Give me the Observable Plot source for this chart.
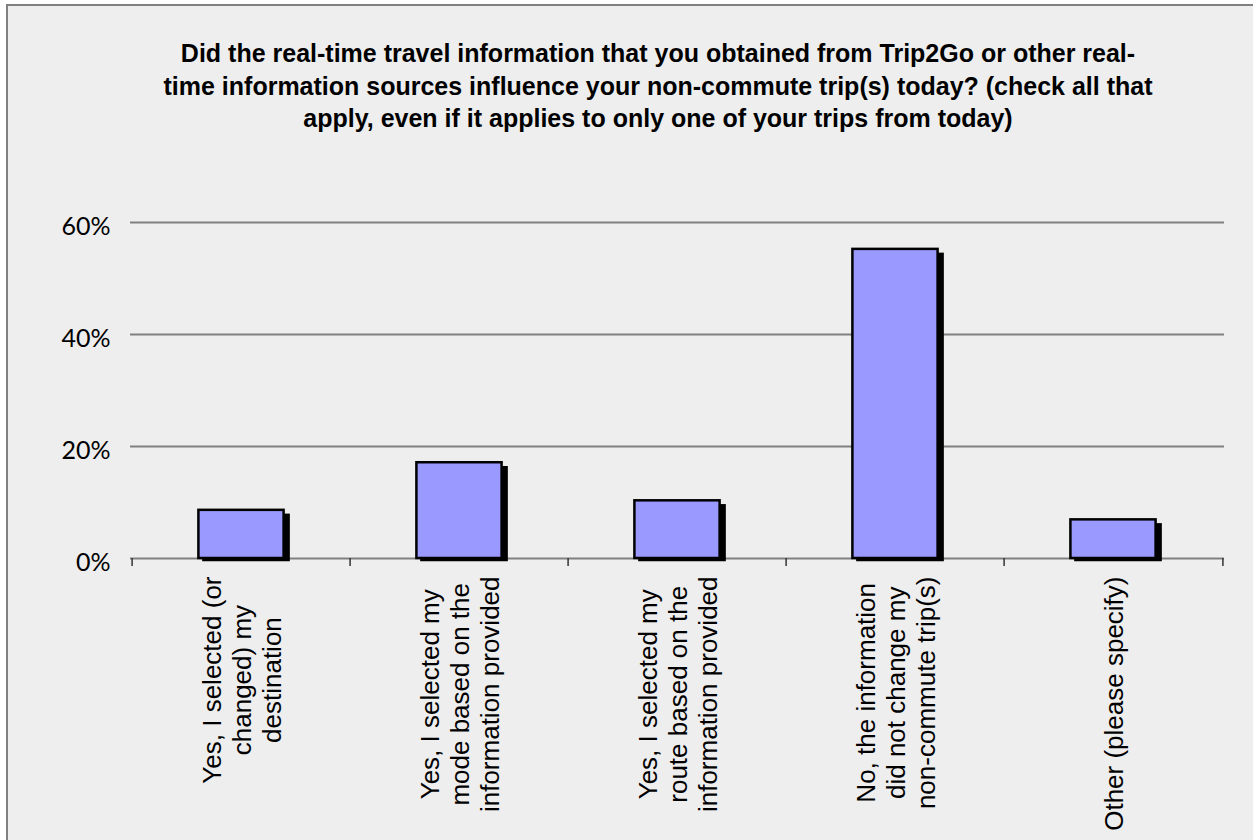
<!DOCTYPE html>
<html>
<head>
<meta charset="utf-8">
<script src="https://cdn.jsdelivr.net/npm/d3@7"></script>
<script src="https://cdn.jsdelivr.net/npm/@observablehq/plot@0.6"></script>
<style>
  html, body { margin: 0; padding: 0; background: #ffffff; width: 1253px; height: 840px; overflow: hidden; }
  #frame { position: absolute; left: 6px; top: 4px; width: 1300px; height: 900px; border: 2px solid #808080; background: #eeeeee; box-sizing: border-box; }
  #title { position: absolute; left: 58px; width: 1200px; top: 37px; text-align: center; font-family: "Liberation Sans", Arial, sans-serif; font-weight: bold; font-size: 25px; line-height: 32.5px; color: #000; }
  #chart { position: absolute; left: 0; top: 140px; }
</style>
</head>
<body>
<div id="frame"></div>
<div id="title"></div>
<div id="chart"></div>
<script>
// ---- data ----
const titleLines = [
  "Did the real-time travel information that you obtained from Trip2Go or other real-",
  "time information sources influence your non-commute trip(s) today? (check all that",
  "apply, even if it applies to only one of your trips from today)"
];
const categories = [
  "Yes, I selected (or\nchanged) my\ndestination",
  "Yes, I selected my\nmode based on the\ninformation provided",
  "Yes, I selected my\nroute based on the\ninformation provided",
  "No, the information\ndid not change my\nnon-commute trip(s)",
  "Other (please specify)"
];
const values = [8.6, 17.1, 10.3, 55.2, 6.9];
const yTicks = [0, 20, 40, 60];

// ---- title ----
const t = document.getElementById("title");
titleLines.forEach((line, i) => {
  if (i) t.appendChild(document.createElement("br"));
  t.appendChild(document.createTextNode(line));
});

// ---- layout ----
const W = 1253, H = 700, mL = 130, mR = 29, mT = 82, mB = 282;
const step = (W - mL - mR) / categories.length;
const barInset = (step - 86) / 2;
const labelFont = "26px 'Liberation Sans', Arial, sans-serif";
const ctx = document.createElement("canvas").getContext("2d");
ctx.font = labelFont;
const blockWidth = (s) => Math.max(...s.split("\n").map(l => ctx.measureText(l).width));

const data = categories.map((c, i) => ({category: c, value: values[i]}));

const labelMarks = categories.map(c => Plot.text([c], {
  x: d => d,
  frameAnchor: "bottom",
  rotate: -90,
  textAnchor: "middle",
  lineAnchor: "middle",
  lineHeight: 1.15,
  fontSize: 26,
  fontFamily: "'Liberation Sans', Arial, sans-serif",
  fill: "#000",
  dy: 18 + blockWidth(c) / 2
}));

const chart = Plot.plot({
  width: W,
  height: H,
  marginLeft: mL,
  marginRight: mR,
  marginTop: mT,
  marginBottom: mB,
  style: {background: "transparent", overflow: "visible"},
  x: {type: "band", domain: categories, padding: 0},
  y: {domain: [0, 60]},
  marks: [
    Plot.ruleY(yTicks, {stroke: "#808080", strokeWidth: 2}),
    Plot.axisY({ticks: yTicks, tickSize: 0, tickPadding: 20, tickFormat: d => d + "%", fontSize: 25, fontFamily: "Lato, 'Open Sans', sans-serif", fill: "#000", dy: 4, label: null}),
    Plot.axisX({ticks: categories, tickSize: 8, tickFormat: () => "", label: null, dx: -step / 2, stroke: "#333", strokeWidth: 1.5}),
    Plot.axisX({ticks: [categories[categories.length - 1]], tickSize: 8, tickFormat: () => "", label: null, dx: step / 2, stroke: "#333", strokeWidth: 1.5}),
    Plot.barY(data, {x: "category", y: "value", fill: "#000", stroke: "#000", strokeWidth: 2.5, insetLeft: barInset, insetRight: barInset, dx: 5, dy: 5, insetBottom: 3}),
    Plot.barY(data, {x: "category", y: "value", fill: "#9999ff", stroke: "#000", strokeWidth: 2.5, insetLeft: barInset, insetRight: barInset}),
    ...labelMarks
  ]
});
document.getElementById("chart").appendChild(chart);
</script>
</body>
</html>
